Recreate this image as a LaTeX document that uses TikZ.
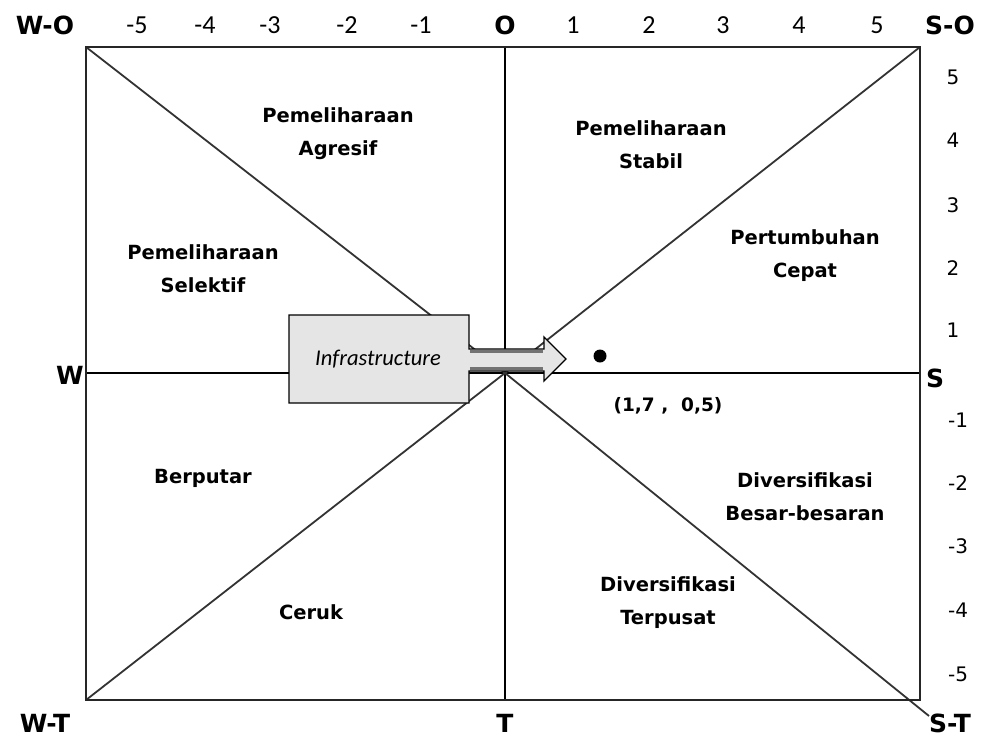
\documentclass[tikz,border=0pt]{standalone}
\usepackage{fontspec}
\setmainfont{DejaVu Sans}
\newfontfamily\numfont{Carlito}
\begin{document}
\begin{tikzpicture}[x=1pt,y=-1pt,
  frame/.style={draw=black!85,line width=2.2pt},
  axisline/.style={draw=black,line width=1.5pt},
  diag/.style={draw=black!80,line width=1.8pt},
  region/.style={font=\fontsize{19.5}{33}\selectfont\bfseries,align=center,inner sep=0pt},
  corner/.style={font=\fontsize{25}{28}\selectfont\bfseries,inner sep=0pt},
  topnum/.style={font=\numfont\fontsize{26}{28}\selectfont,inner sep=0pt},
  sidenum/.style={font=\fontsize{20}{22}\selectfont,inner sep=0pt},
  arrowbox/.style={draw=black,line width=1.3pt,fill=black!10}]
\useasboundingbox (0,0) rectangle (984,737);

% frame corners and axis ends
\coordinate (wo) at (86,47);
\coordinate (so) at (920,47);
\coordinate (wt) at (86,700);
\coordinate (st) at (920,700);
\coordinate (c) at (505,373);
\coordinate (otop) at (505,47);
\coordinate (tbot) at (505,700);
\coordinate (wmid) at (86,373);
\coordinate (smid) at (920,373);
\coordinate (stext) at (929,716);

% axes and diagonals
\draw[axisline] (otop) -- (tbot);
\draw[axisline] (wmid) -- (smid);
\draw[diag] (wo) -- (c);
\draw[diag] (so) -- (c);
\draw[diag] (wt) -- (c);
\draw[diag] (c) -- (stext);
\draw[frame] (wo) rectangle (st);

% factor box with arrow
\path[arrowbox] (289,315) -- (469,315) -- (469,349) -- (544,349) -- (544,337)
  -- (566,359) -- (544,381) -- (544,371) -- (469,371) -- (469,403)
  -- (289,403) -- cycle;
\draw[black!55,line width=2.2pt] (470,351.5) -- (543,351.5);
\draw[black!55,line width=2.2pt] (470,368.5) -- (543,368.5);
\node[inner sep=0pt,font=\numfont\itshape\fontsize{22.5}{24}\selectfont] (infra) at (378,359) {Infrastructure};

% position point
\fill (600,356) circle (6.5);
\node[font=\fontsize{18.5}{20}\selectfont\bfseries,inner sep=0pt] (pt) at (668,406) {(1,7 ,\ \ 0,5)};

% strategy regions
\node[region] (agresif) at (338,134) {Pemeliharaan\\Agresif};
\node[region] (selektif) at (203,269) {Pemeliharaan\\Selektif};
\node[region] (stabil) at (651,145) {Pemeliharaan\\Stabil};
\node[region] (cepat) at (805,256) {Pertumbuhan\\Cepat};
\node[region] (berputar) at (203,478) {Berputar};
\node[region] (ceruk) at (311,612) {Ceruk};
\node[region] (besar) at (805,497) {Diversifikasi\\Besar-besaran};
\node[region] (terpusat) at (668,603) {Diversifikasi\\Terpusat};

% corner and axis letters
\node[corner] (lwo) at (45,25) {W-O};
\node[corner] (lo) at (505,25) {O};
\node[corner] (lso) at (950,25) {S-O};
\node[corner] (lw) at (70,375) {W};
\node[corner] (ls) at (935,378) {S};
\node[corner] (lwt) at (45,723) {W-T};
\node[corner] (lt) at (505,723) {T};
\node[corner] (lst) at (950,723) {S-T};

% top scale
\foreach \v/\x in {-5/137,-4/205,-3/270,-2/347,-1/421,1/573,2/649,3/723,4/799,5/877}
  \node[topnum] at (\x,25) {\v};

% side scale
\foreach \v/\y in {5/77,4/140,3/205,2/268,1/330}
  \node[sidenum] at (953,\y) {\v};
\foreach \v/\y in {-1/420,-2/483,-3/546,-4/610,-5/674}
  \node[sidenum] at (958,\y) {\v};
\end{tikzpicture}
\end{document}
